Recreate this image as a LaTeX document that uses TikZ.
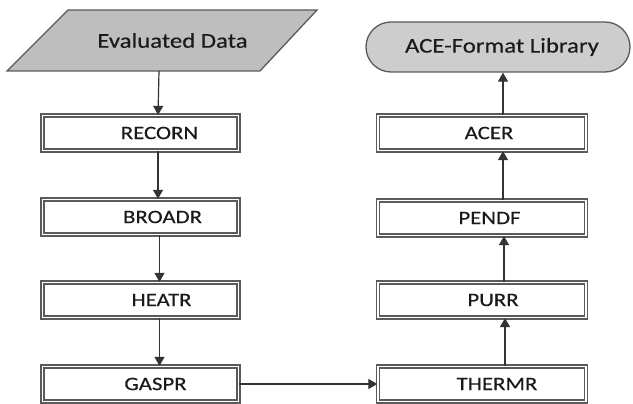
\documentclass[tikz,border=0pt]{standalone}
\usepackage{fontspec}
\setmainfont{Carlito}
\newfontfamily\labelfont[FakeBold=0.3]{Carlito}
\usetikzlibrary{arrows.meta,shapes.misc}

\definecolor{edge}{RGB}{90,90,90}
\definecolor{txt}{RGB}{25,25,30}
\definecolor{datafill}{RGB}{190,190,190}
\definecolor{libfill}{RGB}{205,205,205}

% wide lettering for the labels, moved right of centre by #1
\newcommand{\boxtext}[2]{\hspace*{#1}\scalebox{1.2}[1]{#2}}
\newcommand{\shapetext}[2]{\hspace*{#1}\scalebox{1.18}[1]{#2}}

\tikzset{
  module/.style={draw=edge, line width=1.3pt, double=white, double distance=1.8pt,
    fill=white, minimum height=35pt, inner sep=0pt,
    font=\labelfont\fontsize{19}{21}\selectfont, text=txt},
  leftmod/.style={module, minimum width=196pt},
  rightmod/.style={module, minimum width=208pt},
  flow/.style={draw=black!80, line width=1.2pt, -{Triangle[width=10pt,length=9pt]}},
  label/.style={font=\labelfont\fontsize{21}{23}\selectfont, text=txt}
}

\begin{document}
\begin{tikzpicture}[x=1pt,y=-1pt]
\useasboundingbox (0,0) rectangle (633,404);

% input data: a parallelogram
\draw[edge, line width=1.3pt, fill=datafill]
  (68,10) -- (317,10) -- (260,71) -- (7,71) -- cycle;
\node[label, minimum height=61pt, inner sep=0pt] (data) at (163,40.5) {\shapetext{19pt}{Evaluated Data}};

% output library: a stadium
\node[rounded rectangle, draw=edge, line width=1.3pt, fill=libfill,
  minimum width=264pt, minimum height=50pt, inner sep=0pt, label] (lib) at (498,47)
  {\shapetext{8pt}{ACE-Format Library}};

% processing chain, left column
\node[leftmod] (recorn) at (140.5,133) {\boxtext{38pt}{RECORN}};
\node[leftmod] (broadr) at (140.5,217) {\boxtext{44pt}{BROADR}};
\node[leftmod] (heatr)  at (140.5,300) {\boxtext{42pt}{HEATR}};
\node[leftmod] (gaspr)  at (140.5,384) {\boxtext{30pt}{GASPR}};

% processing chain, right column
\node[rightmod] (thermr) at (482,384) {\boxtext{30pt}{THERMR}};
\node[rightmod] (purr)   at (482,300) {\boxtext{22pt}{PURR}};
\node[rightmod] (pendf)  at (482,218) {\boxtext{15pt}{PENDF}};
\node[rightmod] (acer)   at (482,133) {\boxtext{14pt}{ACER}};

% connectors
\draw[flow] ([xshift=-4pt]data.south) -- ([xshift=17.5pt]recorn.north);
\draw[flow] ([xshift=17.5pt]recorn.south) -- ([xshift=17.5pt]broadr.north);
\draw[flow] ([xshift=19pt]broadr.south) -- ([xshift=19pt]heatr.north);
\draw[flow] ([xshift=19pt]heatr.south) -- ([xshift=19pt]gaspr.north);
\draw[flow] (gaspr.east) -- (thermr.west);
\draw[flow] ([xshift=23pt]thermr.north) -- ([xshift=23pt]purr.south);
\draw[flow] ([xshift=22pt]purr.north) -- ([xshift=22pt]pendf.south);
\draw[flow] ([xshift=21pt]pendf.north) -- ([xshift=21pt]acer.south);
\draw[flow] ([xshift=21pt]acer.north) -- ([xshift=5pt]lib.south);
\end{tikzpicture}
\end{document}
